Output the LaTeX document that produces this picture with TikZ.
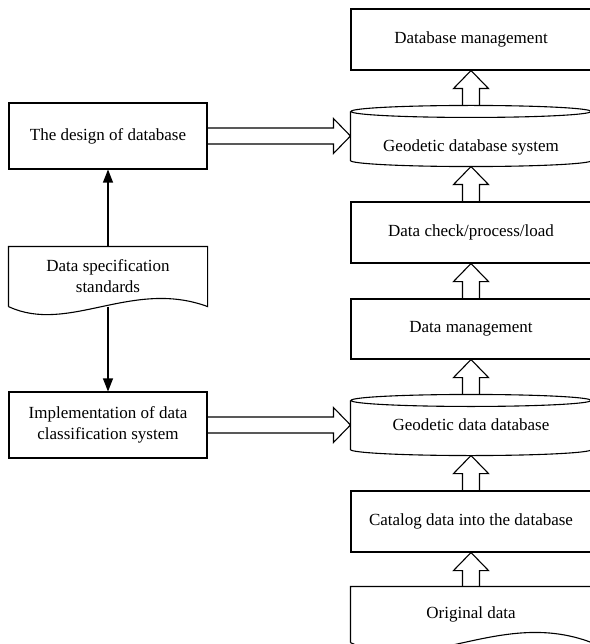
\documentclass[tikz,border=0pt]{standalone}
\usepackage{fontspec}
\setmainfont{Liberation Serif}
\usetikzlibrary{arrows.meta,calc}
\begin{document}
\begin{tikzpicture}[x=1pt, y=-1pt, line width=1.1pt,
    every node/.style={font=\fontsize{17}{21}\selectfont, inner sep=0pt},
    box/.style={draw, minimum width=240pt, minimum height=61pt},
    leftbox/.style={draw, minimum width=198pt, minimum height=66pt},
    dbase/.style={minimum width=240pt, minimum height=60pt},
    docu/.style={minimum height=59pt}]
    \useasboundingbox (0,0) rectangle (589,644);

    % Right column, bottom to top
    \node[docu, minimum width=240pt, minimum height=55pt] (org) at (471,614.5) {Original data};
    \node[box] (cat) at (471,521.5) {Catalog data into the database};
    \node[dbase] (gdd) at (471,425) {Geodetic data database};
    \node[box, minimum height=60pt] (dmg) at (471,329) {Data management};
    \node[box] (chk) at (471,232.5) {Data check/process/load};
    \node[dbase, text height=36pt, text depth=4pt] (gds) at (471,136) {Geodetic database system};
    \node[box] (dbm) at (471,39.5) {Database management};

    % Left column
    \node[leftbox] (dsn) at (108,136) {The design of database};
    \node[docu, minimum width=198pt, align=center] (spec) at (108,276.5) {Data specification\\standards};
    \node[leftbox, align=center] (imp) at (108,425) {Implementation of data\\classification system};

    % Draw the database outlines
    \foreach \db in {gds, gdd} {
        \draw ($(\db.north west)+(0,6)$) -- ($(\db.south west)+(0,-6)$)
            .. controls ($(\db.south west)+(0,-2.7)$) and ($(\db.south)+(-66.3,0)$) .. (\db.south)
            .. controls ($(\db.south)+(66.3,0)$) and ($(\db.south east)+(0,-2.7)$) .. ($(\db.south east)+(0,-6)$)
            -- ($(\db.north east)+(0,6)$);
        \draw ($(\db.north)+(0,6)$) ellipse [x radius=120pt, y radius=6pt];
    }

    % Draw the document outlines with the wavy bottom
    \foreach \dc/\k in {spec/28, org/35} {
        \draw (\dc.south west) -- (\dc.north west) -- (\dc.north east) -- (\dc.south east)
            .. controls ($(\dc.south east)!0.38!(\dc.south west)+(0,-\k)$)
            and ($(\dc.south west)!0.3!(\dc.south east)+(0,\k)$) .. (\dc.south west);
    }

    % Hollow arrows up the right column
    \foreach \lo/\hi in {org/cat, cat/gdd, gdd/dmg, dmg/chk, chk/gds, gds/dbm}
        \draw ($(\lo.north)+(-8.5,0)$) -- ($(\hi.south)+(-8.5,18)$) -- ($(\hi.south)+(-17.5,18)$) -- (\hi.south)
            -- ($(\hi.south)+(17.5,18)$) -- ($(\hi.south)+(8.5,18)$) -- ($(\lo.north)+(8.5,0)$);

    % Hollow arrows from the left column
    \foreach \lft/\rgt in {dsn/gds, imp/gdd}
        \draw ($(\lft.east)+(0,-8)$) -- ($(\rgt.west)+(-17,-8)$) -- ($(\rgt.west)+(-17,-17.5)$) -- (\rgt.west)
            -- ($(\rgt.west)+(-17,17.5)$) -- ($(\rgt.west)+(-17,8)$) -- ($(\lft.east)+(0,8)$);

    % Thin arrows from the standards
    \draw[-{Triangle[length=13pt,width=10pt]}] (spec.north) -- (dsn.south);
    \draw[-{Triangle[length=13pt,width=10pt]}] (spec.south) -- (imp.north);
\end{tikzpicture}
\end{document}
